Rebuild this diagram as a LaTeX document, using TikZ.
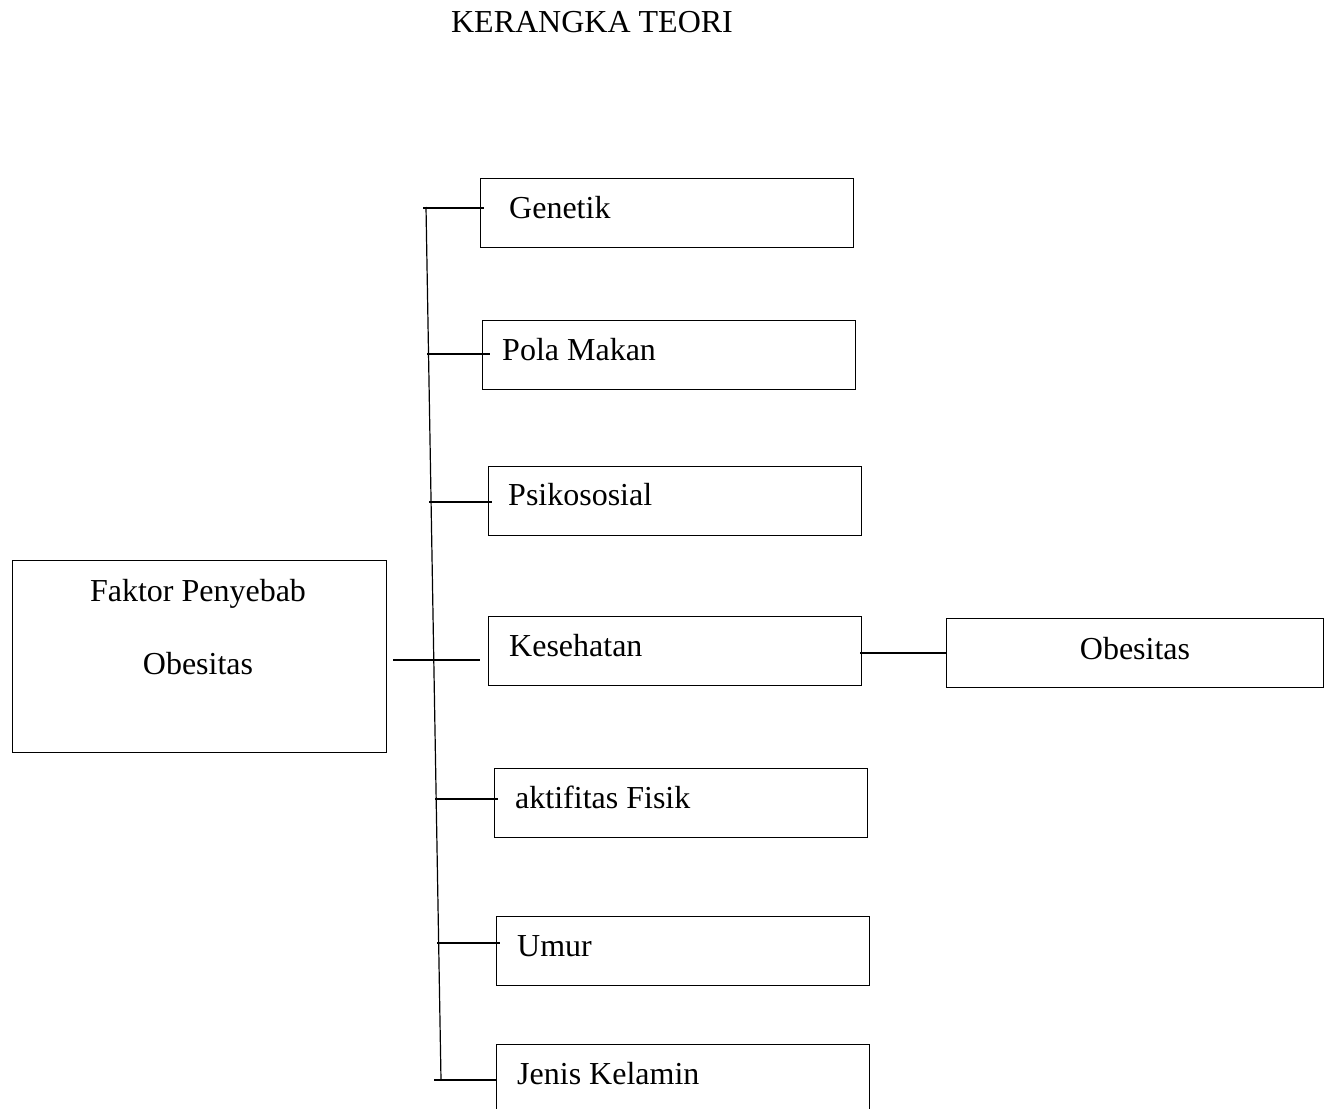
\documentclass[tikz,border=0pt]{standalone}
\usepackage{fontspec}
\setmainfont{Liberation Serif}
\begin{document}
\begin{tikzpicture}[x=1pt,y=-1pt,
  box/.style={draw, line width=1.2pt, rectangle, inner sep=0pt, anchor=north west, minimum width=373pt, minimum height=69pt},
  txt/.style={inner sep=0pt, anchor=base west, font=\fontsize{32}{38}\selectfont},
  ctxt/.style={inner sep=0pt, anchor=base, font=\fontsize{32}{38}\selectfont},
  conn/.style={line width=1.2pt}]
\clip (0,0) rectangle (1329,1108);
\fill[white] (0,0) rectangle (1329,1108);
% title
\node[ctxt] (title) at (592,33) {KERANGKA TEORI};
% main box
\node[box, minimum width=374pt, minimum height=192pt] (faktor) at (12,560) {};
\node[ctxt] (faktorA) at (198,601) {Faktor Penyebab};
\node[ctxt] (faktorB) at (198,674) {Obesitas};
% factor boxes
\node[box] (gen) at (480,178) {};
\node[txt] (genT) at (509,218) {Genetik};
\node[box] (pola) at (482,320) {};
\node[txt] (polaT) at (502,360) {Pola Makan};
\node[box] (psi) at (488,466) {};
\node[txt] (psiT) at (508,505) {Psikososial};
\node[box] (kes) at (488,616) {};
\node[txt] (kesT) at (509,656) {Kesehatan};
\node[box] (akt) at (494,768) {};
\node[txt] (aktT) at (515,808) {aktifitas Fisik};
\node[box] (umur) at (496,916) {};
\node[txt] (umurT) at (517,956) {Umur};
\node[box] (jenis) at (496,1044) {};
\node[txt] (jenisT) at (517,1084) {Jenis Kelamin};
% outcome box
\node[box, minimum width=377pt] (obes) at (946,618) {};
\node[ctxt] (obesT) at (1135,659) {Obesitas};
% spine
\coordinate (sTop) at (426,207);
\coordinate (sBot) at (441,1080);
\draw[conn] (sTop) -- (sBot);
% branches
\coordinate (bGen) at (423,208);
\coordinate (bPola) at (427,354);
\coordinate (bPsi) at (429,502);
\coordinate (bFak) at (393,660);
\coordinate (bAkt) at (435,799);
\coordinate (bUmur) at (437,943);
\coordinate (bJenis) at (434,1080);
\draw[conn] (bGen) -- ([xshift=4pt]gen.west |- bGen);
\draw[conn] (bPola) -- ([xshift=8pt]pola.west |- bPola);
\draw[conn] (bPsi) -- ([xshift=4pt]psi.west |- bPsi);
\draw[conn] (bFak) -- ([xshift=-8pt]kes.west |- bFak);
\draw[conn] (bAkt) -- ([xshift=4pt]akt.west |- bAkt);
\draw[conn] (bUmur) -- ([xshift=4pt]umur.west |- bUmur);
\draw[conn] (bJenis) -- (jenis.west |- bJenis);
\draw[conn] ([xshift=-2pt]kes.east |- 0,653) -- (obes.west |- 0,653);
\end{tikzpicture}
\end{document}
